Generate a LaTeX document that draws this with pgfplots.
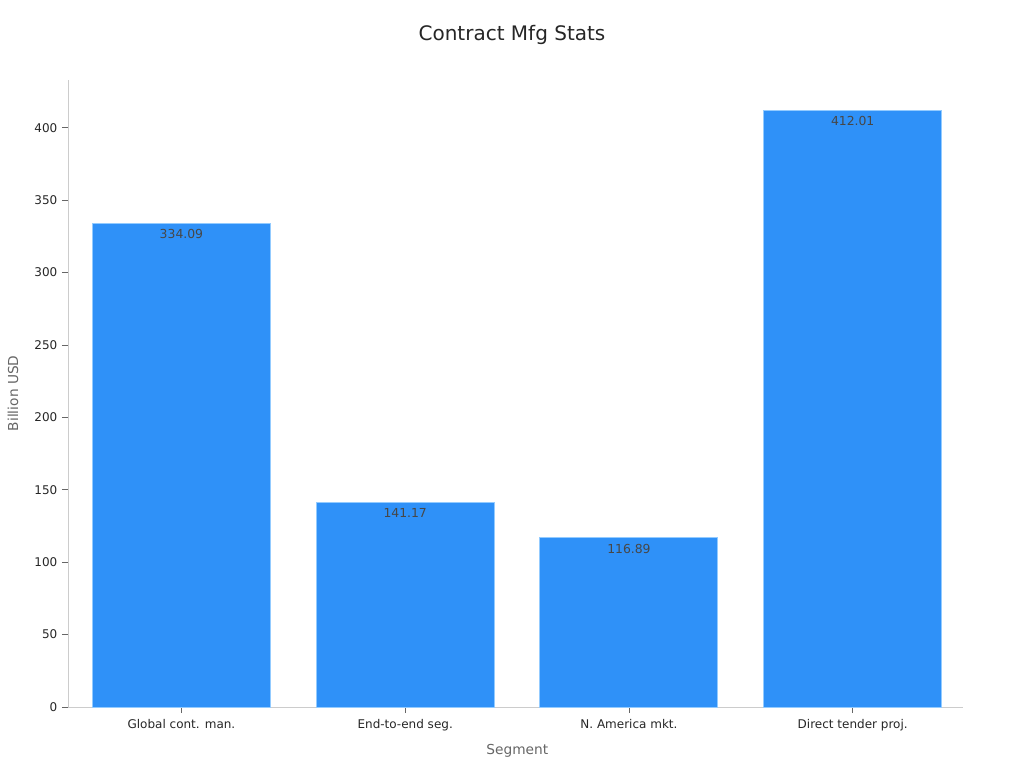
\documentclass[border=0pt]{standalone}
\usepackage{fontspec}
\setmainfont{DejaVu Sans}
\usepackage{pgfplots}
\pgfplotsset{compat=1.18}
\definecolor{barblue}{HTML}{2F91F8}
\definecolor{baredge}{HTML}{93CBFF}
\definecolor{axisgray}{HTML}{CCCCCC}
\definecolor{textdark}{HTML}{262626}
\definecolor{labelgray}{HTML}{666666}
\begin{document}
\begin{tikzpicture}[x=1pt,y=1pt]
\useasboundingbox (0,0) rectangle (768,576);
\begin{axis}[
    at={(51pt,45.75pt)}, anchor=south west,
    scale only axis,
    width=671.25pt, height=470.25pt,
    xmin=-0.507, xmax=3.493,
    ymin=0, ymax=433,
    axis x line=bottom, axis y line=left,
    axis line style={axisgray, -},
    xtick=data,
    xticklabels={Global cont. man., End-to-end seg., N. America mkt., Direct tender proj.},
    ytick={0,50,...,400},
    tick align=outside,
    major tick length=4.5pt,
    tick style={labelgray, line width=0.6pt},
    tick label style={font=\fontsize{9}{11}\selectfont, text=textdark},
    /pgf/number format/assume math mode=true,
    xticklabel style={yshift=-1pt},
    ybar, bar width=133.5pt,
    nodes near coords,
    nodes near coords style={font=\fontsize{9.3}{11}\selectfont, text=textdark!85, anchor=north, yshift=-1pt,
      /pgf/number format/.cd, fixed, fixed zerofill, precision=2},
]
\addplot[fill=barblue, draw=baredge, line width=0.7pt] coordinates {(0,334.09) (1,141.17) (2,116.89) (3,412.01)};
\end{axis}
\node[font=\fontsize{15}{18}\selectfont, text=textdark] at (384,549.75) {Contract Mfg Stats};
\node[font=\fontsize{10.3}{12}\selectfont, text=labelgray] at (388,12.75) {Segment};
\node[font=\fontsize{10.3}{12}\selectfont, text=labelgray, rotate=90] at (9.75,281) {Billion USD};
\end{tikzpicture}
\end{document}
